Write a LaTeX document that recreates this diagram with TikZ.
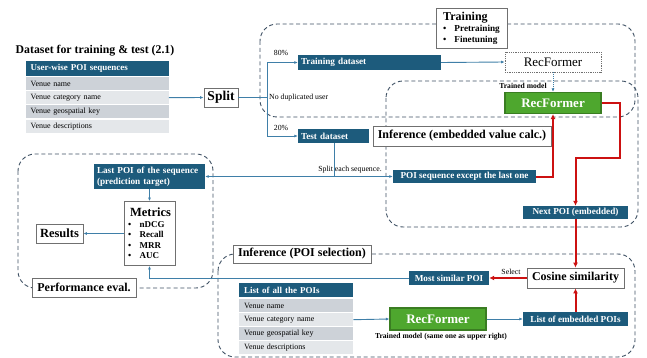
\documentclass[tikz,border=0pt]{standalone}
\usepackage{fontspec}
\setmainfont{Liberation Serif}
\usetikzlibrary{arrows.meta}
\definecolor{dblue}{HTML}{1D5B7C}
\definecolor{lblue}{HTML}{3F7FA8}
\definecolor{frame}{HTML}{3E5063}
\definecolor{rowa}{HTML}{CDD2D8}
\definecolor{rowb}{HTML}{E4E7EA}
\definecolor{gfill}{HTML}{4EA72E}
\definecolor{gdraw}{HTML}{3A7D22}
\definecolor{rline}{HTML}{CC1111}
\definecolor{wdraw}{HTML}{707070}
\begin{document}
\begin{tikzpicture}[x=1pt,y=-1pt,
  dashframe/.style={draw=frame,line width=0.9pt,dash pattern=on 4pt off 2.8pt,rounded corners=17pt},
  bbox/.style={fill=dblue,text=white,inner ysep=0pt,inner xsep=3pt,font=\bfseries\fontsize{9.2}{11}\selectfont},
  thead/.style={fill=dblue,text=white,anchor=north west,inner ysep=0pt,inner xsep=5pt,align=left,font=\bfseries\fontsize{9}{10.5}\selectfont},
  trow/.style={anchor=north west,inner ysep=0pt,inner xsep=5pt,align=left,minimum height=13pt,font=\fontsize{8}{9.5}\selectfont},
  wbox/.style={draw=wdraw,fill=white,line width=0.8pt,inner sep=0pt,font=\bfseries\fontsize{12}{14}\selectfont},
  gbox/.style={draw=gdraw,fill=gfill,line width=1.2pt,text=white,inner sep=0pt,font=\bfseries\fontsize{13}{15}\selectfont},
  conn/.style={draw=lblue,line width=0.9pt,-{Latex[length=3.5pt,width=3pt]}},
  plain/.style={draw=lblue,line width=0.9pt},
  redc/.style={draw=rline,line width=2pt,-{Latex[length=5pt,width=5pt]}},
  small/.style={font=\fontsize{7.8}{9}\selectfont,inner sep=0pt},
  smallb/.style={font=\bfseries\fontsize{7.6}{9}\selectfont,inner sep=0pt}
]
\useasboundingbox (0,0) rectangle (647,358);

% dashed frames
\draw[dashframe] (260,24) rectangle (635,117);
\draw[dashframe] (386,81) rectangle (638,227);
\draw[dashframe] (18,154) rectangle (213,288);
\draw[dashframe] (218,254) rectangle (635,357);

% title and table 1
\node[font=\bfseries\fontsize{11.8}{13}\selectfont,inner sep=0pt] (title) at (95,51) {Dataset for training \& test (2.1)};
\node[thead,text width=133pt,minimum height=15pt] (h1) at (25.5,61) {User-wise POI sequences};
\node[trow,fill=rowa,text width=133pt] (r11) at (25.5,77) {Venue name};
\node[trow,fill=rowb,text width=133pt] (r12) at (25.5,91) {Venue category name};
\node[trow,fill=rowa,text width=133pt] (r13) at (25.5,105) {Venue geospatial key};
\node[trow,fill=rowb,text width=133pt] (r14) at (25.5,119.5) {Venue descriptions};

% split
\node[wbox,minimum width=34pt,minimum height=19pt,font=\bfseries\fontsize{13.5}{15}\selectfont] (split) at (221,97.5) {Split};
\coordinate (br) at (267,97.5);
\node[bbox,minimum width=143pt,minimum height=15pt,text width=137pt,align=left] (train) at (369.5,62.5) {Training dataset};
\node[bbox,minimum width=71pt,minimum height=14pt,text width=65pt,align=left] (test) at (333.5,136) {Test dataset};
\node[small] (p80) at (281,53) {80\%};
\node[small] (p20) at (281,128) {20\%};
\node[small,anchor=west] (nodup) at (269,97.5) {No duplicated user};
\draw[conn] (r12.east) -- (split.west);
\draw[plain] (split.east) -- (br);
\draw[conn] (br) |- (train.west);
\draw[conn] (br) |- (test.west);

% training label
\node[wbox,minimum width=71pt,minimum height=40pt,align=left,font=\bfseries\fontsize{9.2}{11}\selectfont] (tlab) at (471.5,28)
  {{\fontsize{12}{13}\selectfont Training}\\[0pt]
   \textbullet\hspace{8pt}Pretraining\\
   \textbullet\hspace{8pt}Finetuning};

% recformer top
\node[draw=wdraw,densely dotted,line width=0.8pt,fill=white,minimum width=96pt,minimum height=20pt,inner sep=0pt,font=\fontsize{13}{15}\selectfont] (rec1) at (553,62) {RecFormer};
\node[gbox,minimum width=96pt,minimum height=21pt] (g1) at (553,103) {RecFormer};
\node[smallb] (tm1) at (523,86) {Trained model};
\draw[conn] (train.east) -- (rec1.west);
\draw[conn,densely dotted] (rec1.south) -- (g1.north);

% inference embedded
\node[wbox,minimum width=178pt,minimum height=20pt] (inf1) at (462,136) {Inference (embedded value calc.)};
\node[bbox,minimum width=143pt,minimum height=13pt] (seq) at (464.5,176.5) {POI sequence except the last one};
\node[bbox,minimum width=105pt,minimum height=13pt] (next) at (575.5,212.5) {Next POI (embedded)};
\node[small] (spl) at (350,170) {Split each sequence.};

% performance eval
\node[bbox,minimum width=111pt,minimum height=25pt,text width=105pt,align=left] (last) at (149.5,176.5) {Last POI of the sequence\\(prediction target)};
\node[wbox,minimum width=51pt,minimum height=64pt,align=left,font=\bfseries\fontsize{9}{10.5}\selectfont] (met) at (149.5,233.5)
  {\hspace*{2pt}{\fontsize{12.5}{14}\selectfont Metrics}\\
   \textbullet\hspace{8.5pt}nDCG\\
   \textbullet\hspace{8.5pt}Recall\\
   \textbullet\hspace{8.5pt}MRR\\
   \textbullet\hspace{8.5pt}AUC};
\node[wbox,minimum width=47pt,minimum height=19pt,font=\bfseries\fontsize{12.5}{14}\selectfont] (res) at (59.5,233.5) {Results};
\node[wbox,minimum width=104pt,minimum height=19pt] (perf) at (84,287.5) {Performance eval.};
\draw[conn] (last.south) -- (met.north);
\draw[conn] (met.west) -- (res.east);

% test -> split each sequence
\coordinate (jn) at (334,176.5);
\draw[plain] (test.south -| jn) -- (jn);
\draw[conn] (jn) -- (seq.west);
\draw[conn] (jn) -- (last.east);

% POI selection
\node[wbox,minimum width=138pt,minimum height=18pt] (inf2) at (302,254) {Inference (POI selection)};
\node[wbox,minimum width=97pt,minimum height=20pt] (cos) at (575.5,278) {Cosine similarity};
\node[bbox,minimum width=80pt,minimum height=14pt] (most) at (449,278) {Most similar POI};
\node[small] (sel) at (511,272) {Select};
\node[thead,text width=104pt,minimum height=14pt] (h2) at (239,283) {List of all the POIs};
\node[trow,fill=rowa,text width=104pt] (r21) at (239,299) {Venue name};
\node[trow,fill=rowb,text width=104pt] (r22) at (239,313) {Venue category name};
\node[trow,fill=rowa,text width=104pt] (r23) at (239,327) {Venue geospatial key};
\node[trow,fill=rowb,text width=104pt] (r24) at (239,341) {Venue descriptions};
\node[gbox,minimum width=96pt,minimum height=22pt] (g2) at (438,319) {RecFormer};
\node[smallb] (tm2) at (441,336.5) {Trained model (same one as upper right)};
\node[bbox,minimum width=105pt,minimum height=14pt] (emb) at (575.5,319) {List of embedded POIs};
\draw[conn] (r22.east) -- (g2.west);
\draw[conn] (g2.east) -- (emb.west);
\draw[conn] (most.west) -| (met.south);

% red flow
\coordinate (rc) at (620,158);
\draw[redc] (seq.east) -| (g1.south);
\draw[redc] (g1.east) -| (rc) -| (next.north);
\draw[redc] (next.south) -- (cos.north);
\draw[redc] (cos.west) -- (most.east);
\draw[redc] (emb.north) -- (cos.south);
\end{tikzpicture}
\end{document}
